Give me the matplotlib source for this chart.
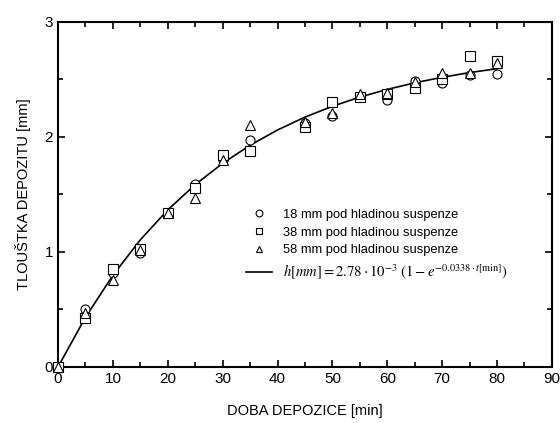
import numpy as np
import matplotlib.pyplot as plt
from matplotlib.ticker import MultipleLocator

plt.rcParams['font.family'] = ['Liberation Sans', 'DejaVu Sans']
plt.rcParams['mathtext.fontset'] = 'stix'

t = [0, 5, 10, 15, 20, 25, 30, 35, 45, 50, 55, 60, 65, 70, 75, 80]
h18 = [0, 0.50, 0.82, 0.99, 1.34, 1.59, 1.80, 1.97, 2.12, 2.18, 2.35, 2.32, 2.49, 2.47, 2.54, 2.55]
h38 = [0, 0.43, 0.85, 1.03, 1.34, 1.56, 1.84, 1.88, 2.09, 2.30, 2.35, 2.37, 2.43, 2.50, 2.70, 2.66]
h58 = [0, 0.47, 0.76, 1.02, 1.34, 1.47, 1.80, 2.10, 2.13, 2.21, 2.37, 2.38, 2.48, 2.56, 2.56, 2.64]

t_fit = [0, 5, 10, 15, 20, 25, 30, 35, 40, 45, 50, 55, 60, 65, 70, 75, 80]
h_fit = [0, 0.432, 0.797, 1.106, 1.366, 1.586, 1.771, 1.928, 2.061, 2.173,
         2.267, 2.347, 2.414, 2.471, 2.519, 2.560, 2.594]

labels = ['18 mm pod hladinou suspenze',
          '38 mm pod hladinou suspenze',
          '58 mm pod hladinou suspenze']
fit_label = (r'$h\left[mm\right]=2.78\cdot10^{-3}\ '
             r'\left(1-e^{-0.0338\cdot t\left[\min\right]}\right)$')

fig = plt.figure(figsize=(5.6, 4.23), dpi=100)
ax = fig.add_axes([0.1036, 0.1324, 0.882, 0.8156])

mk = dict(linestyle='none', mfc='white', mec='black', mew=0.8, ms=6.5, clip_on=False, zorder=3)
ax.plot(t, h18, marker='o', label=labels[0], **mk)
ax.plot(t, h38, marker='s', label=labels[1], **mk)
ax.plot(t, h58, marker='^', label=labels[2], **mk)
ax.plot(t_fit, h_fit, color='black', lw=1.2, label=fit_label)

ax.set_xlim(0, 90)
ax.set_ylim(0, 3)
ax.xaxis.set_major_locator(MultipleLocator(10))
ax.xaxis.set_minor_locator(MultipleLocator(5))
ax.yaxis.set_major_locator(MultipleLocator(1))
ax.yaxis.set_minor_locator(MultipleLocator(0.5))
ax.tick_params(which='both', direction='in', top=True, right=True,
               labelsize=11, width=1.2)
ax.tick_params(which='major', length=5)
ax.tick_params(which='minor', length=3.5)
for s in ax.spines.values():
    s.set_linewidth(1.5)

ax.set_xlabel('DOBA DEPOZICE [min]', fontsize=10.5, labelpad=13)
ax.set_ylabel('TLOUŠTKA DEPOZITU [mm]', fontsize=10.5, labelpad=10)

leg = ax.legend(loc='upper left', bbox_to_anchor=(0.37, 0.474), frameon=False,
                fontsize=9.3, handlelength=2.0, handletextpad=0.9,
                labelspacing=0.45, borderaxespad=0, markerscale=0.75)
leg.get_texts()[3].set_fontsize(10.5)

fig.savefig('out.png', dpi=100)
